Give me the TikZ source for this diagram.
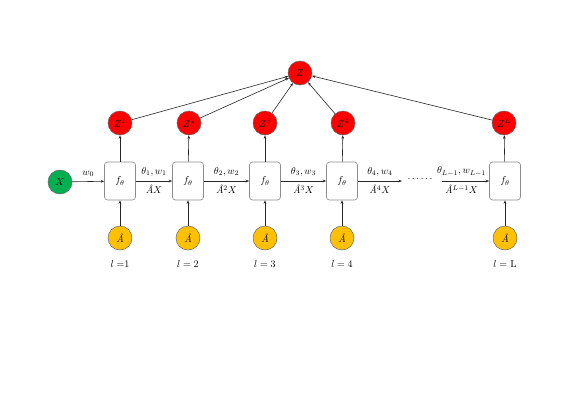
\documentclass[tikz,border=0pt]{standalone}
\usepackage{fontspec}
\usetikzlibrary{arrows.meta}
\newcommand{\Ahat}{\textit{Â}}
\begin{document}
\begin{tikzpicture}[x=1pt,y=-1pt,
  circ/.style={circle,draw=black!60,line width=0.5pt,minimum size=24pt,inner sep=0pt,font=\normalsize},
  fbox/.style={draw=black!45,rounded corners=3pt,line width=0.6pt,minimum width=31pt,minimum height=38pt,inner sep=0pt,fill=white,font=\normalsize},
  arr/.style={-{Stealth[length=3.5pt,width=2.6pt]},line width=0.6pt,draw=black!85},
  lbl/.style={font=\normalsize,inner sep=0pt},
  up/.style={lbl,above=4.5pt},
  dn/.style={lbl,below=4pt}]
\useasboundingbox (0,0) rectangle (577,410);
\definecolor{zred}{RGB}{255,0,0}
\definecolor{xgreen}{RGB}{0,176,80}
\definecolor{ayel}{RGB}{255,192,0}
% top node
\node[circ,fill=zred] (Z) at (300,73) {$Z$};
% Z nodes
\node[circ,fill=zred] (Z1) at (120,123) {$Z^1$};
\node[circ,fill=zred] (Z2) at (189,123) {$Z^2$};
\node[circ,fill=zred] (Z3) at (265,123) {$Z^3$};
\node[circ,fill=zred] (Z4) at (343,123) {$Z^4$};
\node[circ,fill=zred] (ZL) at (504,123) {$Z^L$};
% X
\node[circ,fill=xgreen] (X) at (60,182) {$X$};
% f boxes
\node[fbox] (F1) at (120,181) {$f_\theta$};
\node[fbox] (F2) at (188,181) {$f_\theta$};
\node[fbox] (F3) at (265,181) {$f_\theta$};
\node[fbox] (F4) at (342,181) {$f_\theta$};
\node[fbox] (F5) at (505,181) {$f_\theta$};
% A nodes
\node[circ,fill=ayel] (A1) at (120,238) {\Ahat};
\node[circ,fill=ayel] (A2) at (188,238) {\Ahat};
\node[circ,fill=ayel] (A3) at (265,238) {\Ahat};
\node[circ,fill=ayel] (A4) at (342,238) {\Ahat};
\node[circ,fill=ayel] (A5) at (505,238) {\Ahat};
% l labels
\node[lbl] (L1) at (120,264) {$l=$1};
\node[lbl] (L2) at (188,264) {$l=2$};
\node[lbl] (L3) at (265,264) {$l=3$};
\node[lbl] (L4) at (342,264) {$l=4$};
\node[lbl] (L5) at (505,264) {$l=$ L};
% dots and coordinates
\coordinate (D1) at (402,181);
\coordinate (D2) at (442,181);
\node[lbl] (dots) at (420,179) {$\cdots\cdots$};
% horizontal arrows
\draw[arr] (X) -- node[up] {$w_0$} (F1);
\draw[arr] (F1) -- node[up] {$\theta_1,w_1$} node[dn] {\Ahat$X$} (F2);
\draw[arr] (F2) -- node[up] {$\theta_2,w_2$} node[dn] {\Ahat$^2X$} (F3);
\draw[arr] (F3) -- node[up] {$\theta_3,w_3$} node[dn] {\Ahat$^3X$} (F4);
\draw[arr] (F4) -- node[up] {$\theta_4,w_4$} node[dn] {\Ahat$^4X$} (D1);
\draw[arr] (D2) -- node[up,xshift=-4pt] {$\theta_{L-1},w_{L-1}$} node[dn,xshift=-4pt] {\Ahat$^{L-1}X$} (F5);
% vertical arrows
\foreach \i in {1,2,3,4,5} {\draw[arr] (A\i) -- (F\i);}
\draw[arr] (F1) -- (Z1);
\draw[arr] (F2) -- (Z2);
\draw[arr] (F3) -- (Z3);
\draw[arr] (F4) -- (Z4);
\draw[arr] (F5) -- (ZL);
% to Z
\draw[arr] (Z1) -- (Z);
\draw[arr] (Z2) -- (Z);
\draw[arr] (Z3) -- (Z);
\draw[arr] (Z4) -- (Z);
\draw[arr] (ZL) -- (Z);
\end{tikzpicture}
\end{document}
